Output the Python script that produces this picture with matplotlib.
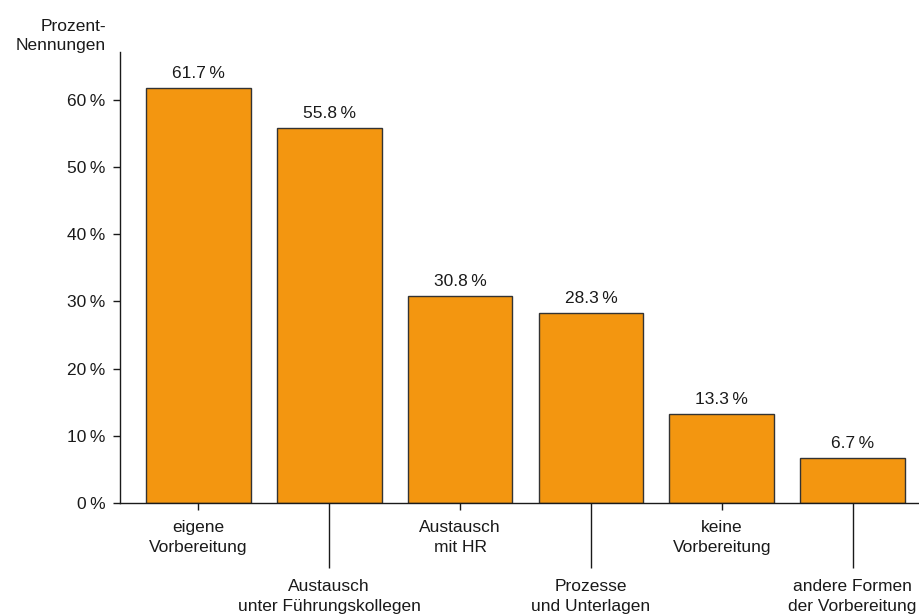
import matplotlib
matplotlib.use("Agg")
import matplotlib.pyplot as plt

# Vorbereitung auf Mitarbeitergespräche (Mehrfachnennungen)
categories = [
    "eigene\nVorbereitung",
    "Austausch\nunter Führungskollegen",
    "Austausch\nmit HR",
    "Prozesse\nund Unterlagen",
    "keine\nVorbereitung",
    "andere Formen\nder Vorbereitung",
]
shares = [61.7, 55.8, 30.8, 28.3, 13.3, 6.7]
yticks = [0, 10, 20, 30, 40, 50, 60]

bar_color = "#f39610"
edge_color = "#333333"
ink = "#1a1a1a"
fs = 12.5

plt.rcParams["font.family"] = ["Liberation Sans", "DejaVu Sans"]

fig = plt.figure(figsize=(9.2, 6.16), dpi=100)
ax = fig.add_axes([0.1304, 0.1834, 0.8696, 0.7322])

x = list(range(len(shares)))
ax.bar(x, shares, width=0.8, color=bar_color, edgecolor=edge_color, linewidth=1.0)

ax.set_xlim(-0.6, 5.516)
ax.set_ylim(0, 67.1)

for s in ("top", "right"):
    ax.spines[s].set_visible(False)
for s in ("left", "bottom"):
    ax.spines[s].set_color(ink)
    ax.spines[s].set_linewidth(1.0)

ax.set_yticks(yticks)
ax.set_yticklabels([f"{v}\u2009%" for v in yticks], fontsize=fs, color=ink)
ax.tick_params(axis="y", direction="out", length=5, width=1.0, pad=5.5, color=ink)

# x ticks: short for the upper label row, long leader lines for the lower row
ax.set_xticks(x)
ax.set_xticklabels([])
ax.tick_params(axis="x", direction="out", length=5, width=1.0, color=ink)
for i, tick in enumerate(ax.xaxis.get_major_ticks()):
    if i % 2 == 1:
        tick.tick1line.set_markersize(47)

for i, label in enumerate(categories):
    off = -25 if i % 2 == 0 else -67.5
    ax.annotate(label, xy=(i, 0), xytext=(0, off), textcoords="offset points",
                ha="center", va="center", fontsize=fs, color=ink,
                linespacing=1.45, annotation_clip=False)

for i, v in enumerate(shares):
    ax.annotate(f"{v:.1f}\u2009%", xy=(i, v), xytext=(0, 5), textcoords="offset points",
                ha="center", va="bottom", fontsize=fs, color=ink)

fig.text(0.1152, 0.9416, "Prozent-\nNennungen", ha="right", va="center",
         multialignment="right", fontsize=fs, color=ink, linespacing=1.4)

fig.savefig("out.png", dpi=100)
